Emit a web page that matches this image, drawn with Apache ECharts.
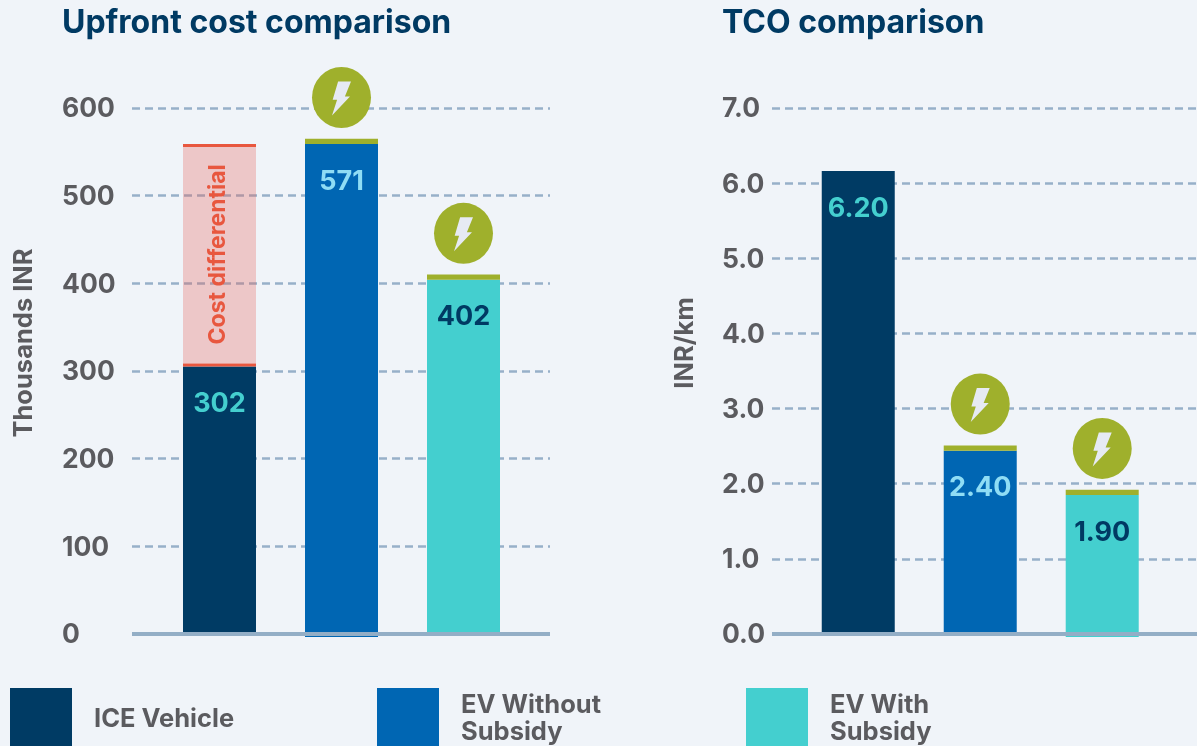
<!DOCTYPE html>
<html><head><meta charset="utf-8">
<style>html,body{margin:0;padding:0;background:#F0F4F9;overflow:hidden}#c{width:1197px;height:746px}</style>
<script src="https://cdn.jsdelivr.net/npm/echarts@6/dist/echarts.min.js"></script>
</head><body><div id="c"></div>
<script>
const vehicles = ['ICE Vehicle', 'EV Without\nSubsidy', 'EV With\nSubsidy'];
const positions = [1, 2, 3];
// Upfront cost (thousands INR)
const upfrontLabels = ['302', '571', '402'];
const upfrontIce = [305, null, null];
const upfrontNoSub = [null, 559, null];
const upfrontSub = [null, null, 404];
const upfrontCap = [null, 6, 6];
const upfrontBelow = [null, -3.3, null];
const upfrontDiffEdge = [3.5, null, null];
const upfrontDiff = [247, null, null];
const upfrontBolt = [null, 612, 457];
// TCO (INR/km)
const tcoLabels = ['6.20', '2.40', '1.90'];
const tcoIce = [6.16, null, null];
const tcoNoSub = [null, 2.44, null];
const tcoSub = [null, null, 1.85];
const tcoCap = [null, 0.07, 0.07];
const tcoBelow = [null, null, -0.04];
const tcoBolt = [null, 3.06, 2.47];

const FONT = 'Inter';
const NAVY = '#003B64', BLUE = '#0066B3', TEAL = '#44CFCF', GREEN = '#9FB02C', RED = '#E8573F', GREY = '#5B5B5F';
const labelColors = [TEAL, '#8FDDF5', '#003A63'];
const BOLT = 'path://M18 0 L56 0 L38 45 L53 45 L0 102 L15 55 L2 55 Z';

// value first so that stacking happens along the y dimension
const pts = arr => arr.map((v, i) => [v, positions[i]]);
const barBase = (idx, name, data, color, extra) => Object.assign({
  type: 'bar', name, xAxisIndex: idx, yAxisIndex: idx, stack: 'p' + idx, barWidth: 73, clip: false,
  encode: { x: 1, y: 0 },
  data: pts(data), itemStyle: { color }, emphasis: { disabled: true }, silent: true
}, extra || {});
const valueLabel = (texts, i) => ({
  show: true, position: 'insideTop', distance: 24, color: labelColors[i],
  fontFamily: FONT, fontWeight: 700, fontSize: 27,
  formatter: () => texts[i]
});
const boltSeries = (idx, data) => {
  const d = pts(data).filter(p => p[0] !== null);
  return [
    { type: 'scatter', xAxisIndex: idx, yAxisIndex: idx, clip: false, encode: { x: 1, y: 0 }, data: d, symbol: 'circle', symbolSize: [59, 61], itemStyle: { color: GREEN, opacity: 1 }, z: 4, silent: true },
    { type: 'scatter', xAxisIndex: idx, yAxisIndex: idx, clip: false, encode: { x: 1, y: 0 }, data: d, symbol: BOLT, symbolSize: [19, 34], symbolOffset: [0, 1], itemStyle: { color: '#E6EAF3', opacity: 1 }, z: 5, silent: true }
  ];
};
const xAxis = (gridIndex, min, max) => ({
  type: 'value', gridIndex, min, max, z: 6,
  axisLine: { show: true, onZero: true, lineStyle: { color: '#93AEC6', width: 4, cap: 'butt' } },
  axisTick: { show: false }, axisLabel: { show: false }, splitLine: { show: false }
});
const yAxis = (gridIndex, max, interval, name, nameGap, labelMargin, fmt) => ({
  type: 'value', gridIndex, min: 0, max, interval, name, nameLocation: 'middle', nameGap,
  nameTextStyle: { fontFamily: FONT, fontWeight: 700, fontSize: 25.5, color: GREY, padding: [0, 0, 0, 56] },
  axisLine: { show: false }, axisTick: { show: false },
  axisLabel: { align: 'left', margin: labelMargin, formatter: v => '{t|' + fmt(v) + '}',
    rich: { t: { padding: [3, 0, 0, 0], fontFamily: FONT, fontWeight: 700, fontSize: 26.5, color: GREY } } },
  splitLine: { show: true, lineStyle: { color: '#97B0C9', width: 2.5, type: [8, 5] } }
});
const legend = (name, left) => ({
  left, top: 688, data: [name], selectedMode: false, itemWidth: 62, itemHeight: 62, icon: 'rect', padding: 0,
  textStyle: { fontFamily: FONT, fontWeight: 700, fontSize: 25.5, lineHeight: 27, color: GREY, padding: [0, 0, 0, 17] }
});
const title = (text, left) => ({ text, left, top: 7, padding: 0, textStyle: { fontFamily: FONT, fontWeight: 700, fontSize: 32, color: '#003A63' } });

const option = {
  backgroundColor: '#F0F4F9', animation: false,
  title: [title('Upfront cost comparison', 62), title('TCO comparison', 722)],
  legend: [legend(vehicles[0], 10), legend(vehicles[1], 377), legend(vehicles[2], 746)],
  grid: [
    { left: 132, top: 108, width: 418, height: 526 },
    { left: 772, top: 108, width: 425, height: 526 }
  ],
  xAxis: [xAxis(0, 0.2828, 3.709), xAxis(1, 0.293, 3.777)],
  yAxis: [
    yAxis(0, 600, 100, 'Thousands INR', 95, 70, v => String(v)),
    yAxis(1, 7, 1, 'INR/km', 74, 50, v => v.toFixed(1))
  ],
  series: [
    barBase(0, vehicles[0], upfrontIce, NAVY, { label: valueLabel(upfrontLabels, 0) }),
    barBase(0, vehicles[1], upfrontNoSub, BLUE, { label: valueLabel(upfrontLabels, 1) }),
    barBase(0, vehicles[2], upfrontSub, TEAL, { label: valueLabel(upfrontLabels, 2) }),
    barBase(0, 'below', upfrontBelow, BLUE),
    barBase(0, 'cap', upfrontCap, GREEN),
    barBase(0, 'diffBottom', upfrontDiffEdge, RED),
    barBase(0, 'Cost differential', upfrontDiff, 'rgba(233,97,86,0.3)', {
      label: { show: true, position: 'inside', rotate: 90, offset: [1, -1], color: RED, fontFamily: FONT, fontWeight: 700, fontSize: 23, formatter: '{a}' }
    }),
    barBase(0, 'diffTop', upfrontDiffEdge, RED),
    ...boltSeries(0, upfrontBolt),
    barBase(1, vehicles[0], tcoIce, NAVY, { label: valueLabel(tcoLabels, 0) }),
    barBase(1, vehicles[1], tcoNoSub, BLUE, { label: valueLabel(tcoLabels, 1) }),
    barBase(1, vehicles[2], tcoSub, TEAL, { label: valueLabel(tcoLabels, 2) }),
    barBase(1, 'below', tcoBelow, TEAL),
    barBase(1, 'cap', tcoCap, GREEN),
    ...boltSeries(1, tcoBolt)
  ]
};
echarts.init(document.getElementById('c'), null, { renderer: 'canvas' }).setOption(option);
</script></body></html>
